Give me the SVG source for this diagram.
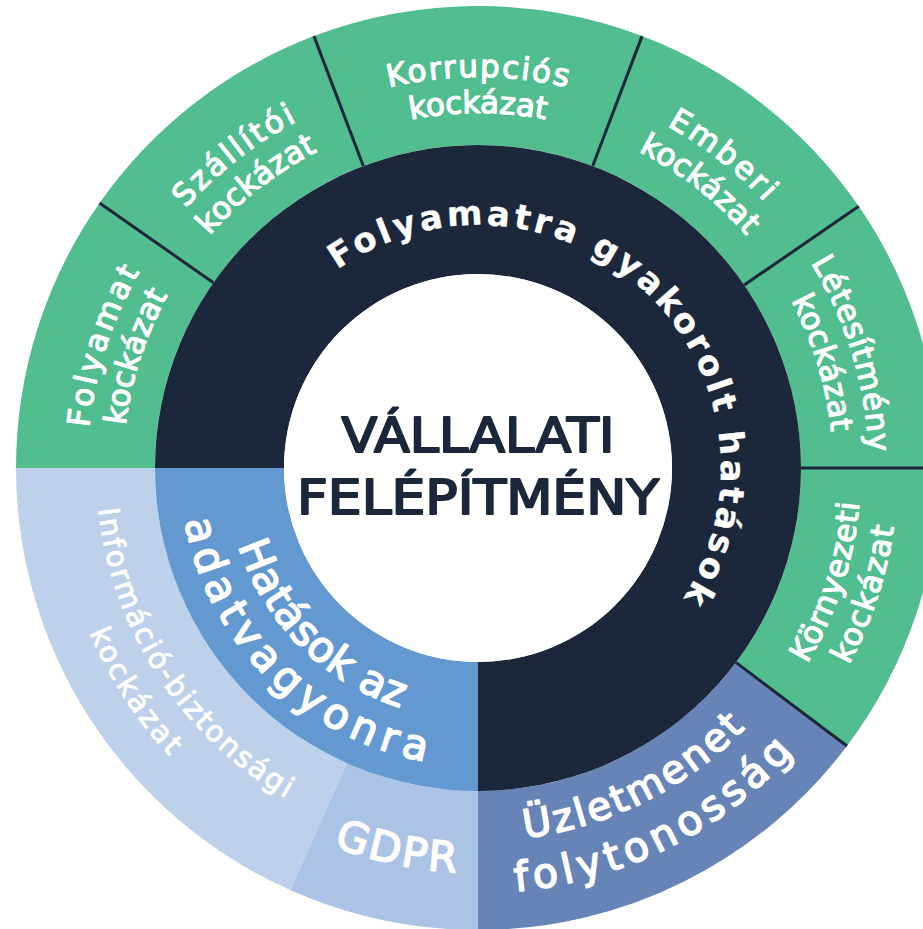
<svg xmlns="http://www.w3.org/2000/svg" width="923" height="929" viewBox="0 0 923 929">
<style>
.t{font-family:"DejaVu Sans","Liberation Sans",sans-serif;fill:#ffffff;font-weight:400;text-anchor:middle;stroke:#ffffff;stroke-linejoin:round}
.gl{font-size:31px;stroke-width:1.2px}
.ring{font-size:34px;font-weight:700;stroke-width:0.3px}
.big{stroke-width:1.6px}
.info{font-size:29px;stroke-width:0.9px}
.green{fill:#52bd8f}
.navy{fill:#1b283b}
.sep{stroke:#1b283b;stroke-width:3;fill:none}
.ctr{font-family:"DejaVu Sans","Liberation Sans",sans-serif;fill:#1b283b;stroke:#1b283b;stroke-width:2.1px;stroke-linejoin:round;font-weight:400;font-size:48px;text-anchor:middle}
</style>
<defs>
<path id="cw391" d="M139.38,272.5 A391,391 0 0 1 816.62,272.5"/>
<path id="cw355" d="M170.56,290.5 A355,355 0 0 1 785.44,290.5"/>
<path id="cw243" d="M235.04,463.76 A243,243 0 0 1 720.96,463.76"/>
<path id="ccw383" d="M146.31,659.5 A383,383 0 0 0 809.69,659.5"/>
<path id="ccw420" d="M114.27,678 A420,420 0 0 0 841.73,678"/>
<path id="ccw373" d="M154.97,654.5 A373,373 0 0 0 801.03,654.5"/>
<path id="ccw425" d="M109.94,680.5 A425,425 0 0 0 846.06,680.5"/>
<path id="ccw405" d="M127.26,670.5 A405,405 0 0 0 828.74,670.5"/>
<path id="ccw382" d="M147.18,659 A382,382 0 0 0 808.82,659"/>
<path id="ccw422" d="M112.54,679 A422,422 0 0 0 843.46,679"/>
<path id="ccw252" d="M259.76,594 A252,252 0 0 0 696.24,594"/>
<path id="ccw298" d="M219.93,617 A298,298 0 0 0 736.07,617"/>
</defs>
<rect width="923" height="929" fill="#ffffff"/>

<g id="node-folyamat-kockazat">
<path class="green" d="M16,468 A462,462 0 0 1 99.55,203.01 L213.41,282.73 A323,323 0 0 0 155,468 Z"/>
<text class="t gl" transform="rotate(-72 478 468)"><textPath href="#cw391" startOffset="50%" textLength="165">Folyamat</textPath></text>
<text class="t gl" transform="rotate(-72 478 468)"><textPath href="#cw355" startOffset="50%" textLength="138">kockázat</textPath></text>
</g>
<g id="node-szallitoi-kockazat">
<path class="green" d="M99.55,203.01 A462,462 0 0 1 313.94,36.11 L363.3,166.05 A323,323 0 0 0 213.41,282.73 Z"/>
<text class="t gl" transform="rotate(-38 478 468)"><textPath href="#cw391" startOffset="50%" textLength="142">Szállítói</textPath></text>
<text class="t gl" transform="rotate(-38 478 468)"><textPath href="#cw355" startOffset="50%" textLength="138">kockázat</textPath></text>
</g>
<g id="node-korrupcios-kockazat">
<path class="green" d="M313.94,36.11 A462,462 0 0 1 642.06,36.11 L592.7,166.05 A323,323 0 0 0 363.3,166.05 Z"/>
<text class="t gl"><textPath href="#cw391" startOffset="50%" textLength="180">Korrupciós</textPath></text>
<text class="t gl"><textPath href="#cw355" startOffset="50%" textLength="136">kockázat</textPath></text>
</g>
<g id="node-emberi-kockazat">
<path class="green" d="M642.06,36.11 A462,462 0 0 1 858.75,206.32 L744.19,285.05 A323,323 0 0 0 592.7,166.05 Z"/>
<text class="t gl" transform="rotate(38 478 468)"><textPath href="#cw391" startOffset="50%" textLength="124">Emberi</textPath></text>
<text class="t gl" transform="rotate(38 478 468)"><textPath href="#cw355" startOffset="50%" textLength="138">kockázat</textPath></text>
</g>
<g id="node-letesitmeny-kockazat">
<path class="green" d="M858.75,206.32 A462,462 0 0 1 940,468 L801,468 A323,323 0 0 0 744.19,285.05 Z"/>
<text class="t gl" transform="rotate(73 478 468)"><textPath href="#cw391" startOffset="50%" textLength="200">Létesítmény</textPath></text>
<text class="t gl" transform="rotate(73 478 468)"><textPath href="#cw355" startOffset="50%" textLength="138">kockázat</textPath></text>
</g>
<g id="node-kornyezeti-kockazat">
<path class="green" d="M940,468 A462,462 0 0 1 846.97,746.04 L735.96,662.39 A323,323 0 0 0 801,468 Z"/>
<text class="t gl" transform="rotate(-72 478 468)"><textPath href="#ccw383" startOffset="50%" textLength="171">Környezeti</textPath></text>
<text class="t gl" transform="rotate(-72 478 468)"><textPath href="#ccw420" startOffset="50%" textLength="146">kockázat</textPath></text>
</g>
<g id="node-uzletmenet-folytonossag">
<path fill="#6684b6" d="M846.97,746.04 A462,462 0 0 1 478,930 L478,791 A323,323 0 0 0 735.96,662.39 Z"/>
<text class="t big" font-size="39" transform="rotate(-26.5 478 468)"><textPath href="#ccw373" startOffset="50%" textLength="251">Üzletmenet</textPath></text>
<text class="t big" font-size="41" transform="rotate(-26.5 478 468)"><textPath href="#ccw425" startOffset="50%" textLength="318">folytonosság</textPath></text>
</g>
<g id="node-gdpr">
<path fill="#abc3e4" d="M478,930 A462,462 0 0 1 290.09,890.06 L346.62,763.08 A323,323 0 0 0 478,791 Z"/>
<text class="t big" font-size="42" transform="rotate(12 478 468)"><textPath href="#ccw405" startOffset="50%" textLength="126">GDPR</textPath></text>
</g>
<g id="node-informacio-biztonsagi-kockazat">
<path fill="#bdd2ea" d="M290.09,890.06 A462,462 0 0 1 16,468 L155,468 A323,323 0 0 0 346.62,763.08 Z"/>
<text class="t info" transform="rotate(57 478 468)"><textPath href="#ccw382" startOffset="50%" textLength="358">Információ-biztonsági</textPath></text>
<text class="t info" transform="rotate(57 478 468)"><textPath href="#ccw422" startOffset="50%" textLength="148">kockázat</textPath></text>
</g>
<g id="node-folyamatra-gyakorolt-hatasok">
<path class="navy" d="M155,468 A323,323 0 1 1 478,791 L478,662 A194,194 0 1 0 284,468 Z"/>
<text class="t ring" transform="rotate(43.5 478 468)"><textPath href="#cw243" startOffset="50%" textLength="668">Folyamatra gyakorolt hatások</textPath></text>
</g>
<g id="node-hatasok-az-adatvagyonra">
<path fill="#6399d0" d="M478,791 A323,323 0 0 1 155,468 L284,468 A194,194 0 0 0 478,662 Z"/>
<text class="t big" font-size="42" transform="rotate(45 478 468)"><textPath href="#ccw252" startOffset="50%" textLength="238">Hatások az</textPath></text>
<text class="t big" font-size="42" transform="rotate(45 478 468)"><textPath href="#ccw298" startOffset="50%" textLength="362">adatvagyonra</textPath></text>
</g>
<g id="node-vallalati-felepitmeny">
<circle cx="478" cy="468" r="194" fill="#ffffff"/>
<text class="ctr" x="478" y="452" textLength="273" lengthAdjust="spacingAndGlyphs">VÁLLALATI</text>
<text class="ctr" x="478" y="514" textLength="362" lengthAdjust="spacingAndGlyphs">FELÉPÍTMÉNY</text>
</g>
<g id="connectors">
<line class="sep" x1="213.41" y1="282.73" x2="99.55" y2="203.01"/>
<line class="sep" x1="363.3" y1="166.05" x2="313.94" y2="36.11"/>
<line class="sep" x1="592.7" y1="166.05" x2="642.06" y2="36.11"/>
<line class="sep" x1="744.19" y1="285.05" x2="858.75" y2="206.32"/>
<line class="sep" x1="801" y1="468" x2="940" y2="468"/>
<line class="sep" x1="735.96" y1="662.39" x2="846.97" y2="746.04"/>
</g>
</svg>
